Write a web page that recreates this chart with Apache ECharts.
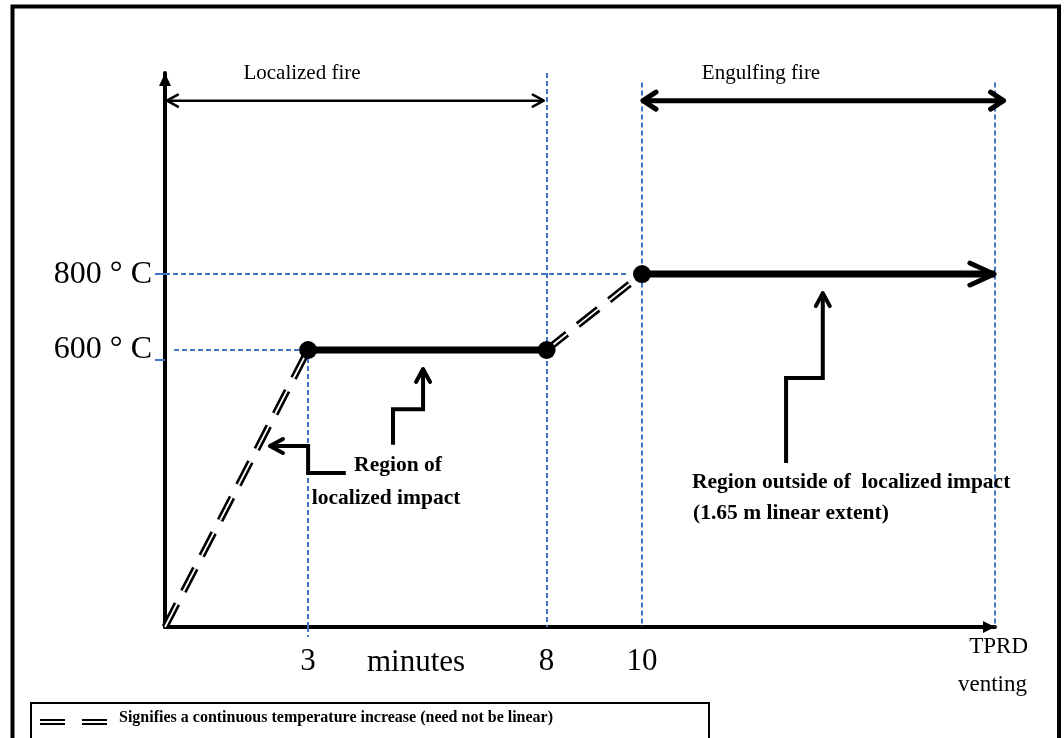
<!DOCTYPE html>
<html><head><meta charset="utf-8">
<script src="https://cdn.jsdelivr.net/npm/echarts@6/dist/echarts.min.js"></script>
<style>html,body{margin:0;padding:0;background:#fff}#c{width:1064px;height:738px}</style>
</head><body><div id="c"></div>
<script>
// ---------------- data ----------------
const timeTicks = [3, 8, 10];                 // minutes
const tempTicks = [600, 800];                 // °C
const tprdTime = 17.4;                        // TPRD venting (schematic end of time axis)
const yFloor = -130;                          // schematic origin (start of heating)
const yCeil = 1330;
const rampToLocalized = [[0, yFloor], [3, 600]];
const localizedPlateau = [[3, 600], [8, 600]];
const rampToEngulfing = [[8, 600], [10, 800]];
const engulfingPlateau = [[10, 800], [tprdTime, 800]];
const texts = {
  localized: 'Localized fire',
  engulfing: 'Engulfing fire',
  regionA1: 'Region of',
  regionA2: 'localized impact',
  regionB1: 'Region outside of  localized impact',
  regionB2: '(1.65 m linear extent)',
  xName: 'minutes',
  tprd1: 'TPRD',
  tprd2: 'venting',
  legend: 'Signifies a continuous temperature increase (need not be linear)'
};

// ---------------- chart ----------------
const chart = echarts.init(document.getElementById('c'), null, {renderer: 'canvas'});
const SERIF = '"Liberation Serif", "Times New Roman", serif';
const BLUE = '#4472C4';
const DASH = [26, 14];

function ramp(data) {
  return [
    {type: 'line', data: data, showSymbol: false, silent: true, clip: false, z: 2,
      lineStyle: {color: '#000', width: 7, type: DASH, cap: 'butt'}},
    {type: 'line', data: data, showSymbol: false, silent: true, clip: false, z: 3,
      lineStyle: {color: '#fff', width: 1.8, type: DASH, cap: 'butt'}}
  ];
}

const option = {
  animation: false,
  backgroundColor: '#fff',
  grid: {left: 165, right: 69, top: 73, bottom: 111, containLabel: false, outerBoundsMode: 'none'},
  xAxis: {
    type: 'value', min: 0, max: tprdTime,
    splitLine: {show: false},
    axisLine: {onZero: false, lineStyle: {color: '#000', width: 4}},
    axisTick: {show: false},
    axisLabel: {customValues: timeTicks, fontFamily: SERIF, fontSize: 31, color: '#000', margin: 19}
  },
  yAxis: {
    type: 'value', min: yFloor, max: yCeil,
    splitLine: {show: false},
    axisLine: {onZero: false, lineStyle: {color: '#000', width: 4}},
    axisTick: {show: true, customValues: [575, 800], length: 10, lineStyle: {color: BLUE, width: 2}},
    axisLabel: {customValues: tempTicks, formatter: v => v + ' ° C', fontFamily: SERIF, fontSize: 32,
      color: '#000', margin: 13, padding: [14, 0, 0, 0]}
  },
  series: [
    {type: 'line', data: [], z: 1, silent: true, clip: false,
      markLine: {silent: true, symbol: ['none', 'none'], label: {show: false}, animation: false,
        lineStyle: {color: BLUE, width: 2, type: [5, 3]},
        emphasis: {disabled: true},
        data: [
          [{coord: [0, 800]}, {coord: [9.7, 800]}],
          [{coord: [0.19, 600]}, {coord: [2.9, 600]}],
          [{coord: [3, 600]}, {coord: [3, yFloor]}],
          [{coord: [8, yCeil]}, {coord: [8, yFloor]}],
          [{coord: [10, 1305]}, {coord: [10, yFloor]}],
          [{coord: [tprdTime, 1305]}, {coord: [tprdTime, yFloor]}]
        ]}},
    ...ramp(rampToLocalized),
    ...ramp(rampToEngulfing),
    {type: 'line', data: localizedPlateau, z: 5, silent: true, clip: false,
      symbol: 'circle', symbolSize: 18, showSymbol: true,
      lineStyle: {color: '#000', width: 7}, itemStyle: {color: '#000'}},
    {type: 'line', z: 5, silent: true, clip: false,
      data: [
        {value: engulfingPlateau[0]},
        {value: engulfingPlateau[1], symbol: 'path://M0,0L24,11L0,22', symbolSize: [24, 22], symbolOffset: [-13, 0],
          itemStyle: {color: 'none', borderColor: '#000', borderWidth: 5, borderCap: 'round', borderJoin: 'round'}}
      ],
      symbol: 'circle', symbolSize: 18, showSymbol: true,
      lineStyle: {color: '#000', width: 7}, itemStyle: {color: '#000'}}
  ]
};
chart.setOption(option);

// ---------------- annotations ----------------
const P = (x, y) => chart.convertToPixel({gridIndex: 0}, [x, y]);

function chevron(tip, dir, L, W, lw) {
  const n = [-dir[1], dir[0]];
  return {type: 'polyline', z: 100, silent: true,
    shape: {points: [[tip[0] - L * dir[0] + W * n[0], tip[1] - L * dir[1] + W * n[1]], tip,
                     [tip[0] - L * dir[0] - W * n[0], tip[1] - L * dir[1] - W * n[1]]]},
    style: {stroke: '#000', fill: null, lineWidth: lw, lineCap: 'round', lineJoin: 'round'}};
}
function triangle(tip, dir, L, W) {
  const n = [-dir[1], dir[0]];
  return {type: 'polygon', z: 100, silent: true,
    shape: {points: [[tip[0] - L * dir[0] + W * n[0], tip[1] - L * dir[1] + W * n[1]], tip,
                     [tip[0] - L * dir[0] - W * n[0], tip[1] - L * dir[1] - W * n[1]]]},
    style: {fill: '#000', stroke: null}};
}
function unit(a, b) { const dx = b[0] - a[0], dy = b[1] - a[1], l = Math.hypot(dx, dy); return [dx / l, dy / l]; }

function doubleArrow(a, b, lw, L, W) {
  const d = unit(a, b);
  return [
    {type: 'line', z: 100, silent: true, shape: {x1: a[0], y1: a[1], x2: b[0], y2: b[1]}, style: {stroke: '#000', lineWidth: lw}},
    chevron(b, d, L, W, lw), chevron(a, [-d[0], -d[1]], L, W, lw)
  ];
}
function elbow(ptsData, lw, L, W) {
  const pts = ptsData.map(p => P(p[0], p[1]));
  const n = pts.length;
  return [
    {type: 'polyline', z: 100, silent: true, shape: {points: pts}, style: {stroke: '#000', fill: null, lineWidth: lw, lineJoin: 'miter'}},
    chevron(pts[n - 1], unit(pts[n - 2], pts[n - 1]), L, W, lw)
  ];
}
function txt(x, y, s, font, align) {
  return {type: 'text', z: 100, silent: true, x: x, y: y,
    style: {text: s, font: font, fill: '#000', align: align || 'center', verticalAlign: 'middle'}};
}

const topY = 1257;
const g = [];
// frame
g.push({type: 'rect', z: 90, silent: true, shape: {x: 12.5, y: 6.5, width: 1046.5, height: 780},
  style: {fill: null, stroke: '#000', lineWidth: 4}});
// axis arrow heads
g.push(triangle(P(0, yCeil), [0, -1], 13, 6));
g.push(triangle(P(tprdTime, yFloor), [1, 0], 12, 6));
// short extension of the 3-minute guide below the time axis
const g3 = P(3, yFloor);
g.push({type: 'line', z: 1, silent: true, shape: {x1: g3[0], y1: g3[1], x2: g3[0], y2: g3[1] + 10},
  style: {stroke: BLUE, lineWidth: 2, lineDash: [5, 3]}});
// phase arrows
g.push(...doubleArrow(P(0.04, topY), P(7.94, topY), 2.5, 11, 6));
g.push(...doubleArrow(P(10.02, topY), P(17.58, topY), 5, 13, 8.5));
g.push(txt(302, 73, texts.localized, '21px ' + SERIF));
g.push(txt(761, 73, texts.engulfing, '21px ' + SERIF));
// elbow pointers
g.push(...elbow([[3.79, 276], [3.0, 276], [3.0, 347], [2.2, 347]], 4, 13, 7));
g.push(...elbow([[4.78, 350], [4.78, 444], [5.41, 444], [5.41, 550]], 4, 13, 7));
g.push(...elbow([[13.02, 302], [13.02, 526], [13.79, 526], [13.79, 750]], 4, 13, 7));
// region labels
g.push(txt(398, 465, texts.regionA1, 'bold 21.5px ' + SERIF));
g.push(txt(386, 498, texts.regionA2, 'bold 21.5px ' + SERIF));
g.push(txt(692, 482, texts.regionB1, 'bold 21.5px ' + SERIF, 'left'));
g.push(txt(693, 513, texts.regionB2, 'bold 21.5px ' + SERIF, 'left'));
// axis texts
g.push(txt(416, 663, texts.xName, '31px ' + SERIF));
g.push(txt(1028, 647, texts.tprd1, '23px ' + SERIF, 'right'));
g.push(txt(1027, 685, texts.tprd2, '23px ' + SERIF, 'right'));
// legend box
g.push({type: 'rect', z: 90, silent: true, shape: {x: 31, y: 703, width: 678, height: 60},
  style: {fill: null, stroke: '#000', lineWidth: 2}});
[[40, 65], [82, 107]].forEach(s => {
  [720, 724].forEach(yy => g.push({type: 'line', z: 100, silent: true,
    shape: {x1: s[0], y1: yy, x2: s[1], y2: yy}, style: {stroke: '#000', lineWidth: 2}}));
});
g.push(txt(119, 718, texts.legend, 'bold 16px ' + SERIF, 'left'));

chart.setOption({graphic: g});
</script>
</body></html>
